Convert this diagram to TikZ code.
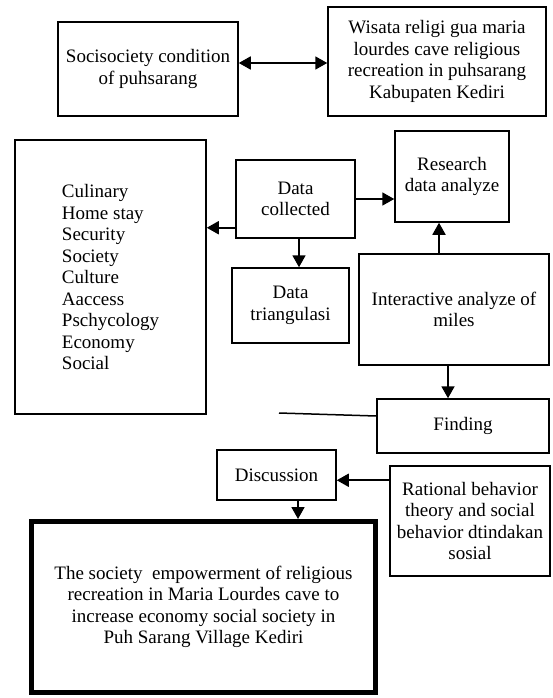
\documentclass[tikz,border=0pt]{standalone}
\usepackage{fontspec}
\setmainfont{Liberation Serif}
\usepackage{tikz}
\usetikzlibrary{arrows.meta, calc}

\begin{document}
\begin{tikzpicture}[x=1pt, y=-1pt,
        plainbox/.style={draw, line width=1.5pt, align=center, inner sep=2pt},
        arr/.style={line width=1.8pt, -{Triangle[length=12pt,width=13pt]}},
        font=\fontsize{19}{21.5}\selectfont]
        \useasboundingbox (0,0) rectangle (552,698);

        \node[plainbox, minimum width=180pt, minimum height=94pt] (soc) at (148,69) {Socisociety condition\\ of puhsarang};
        \node[plainbox, minimum width=218pt, minimum height=109pt] (wisata) at (437,61.5) {Wisata religi gua maria\\ lourdes cave religious\\ recreation in puhsarang\\ Kabupaten Kediri};
        \node[plainbox, align=left, minimum width=191pt, minimum height=274pt] (list) at (110.5,277) {Culinary\\ Home stay\\ Security\\ Society\\ Culture\\ Aaccess\\ Pschycology\\ Economy\\ Social};
        \node[plainbox, minimum width=119pt, minimum height=78pt] (dc) at (295.5,199) {Data\\ collected};
        \node[plainbox, minimum width=114pt, minimum height=91pt] (research) at (452,176.5) {Research\\ data analyze};
        \node[plainbox, minimum width=117pt, minimum height=75pt] (tri) at (290.5,305.5) {Data\\ triangulasi};
        \node[plainbox, minimum width=190pt, minimum height=111pt] (inter) at (454,309.5) {Interactive analyze of\\ miles};
        \node[plainbox, minimum width=172pt, minimum height=54pt] (finding) at (463,426) {Finding};
        \node[plainbox, minimum width=119pt, minimum height=50pt] (disc) at (276.5,475) {Discussion};
        \node[plainbox, minimum width=160pt, minimum height=110pt] (rational) at (470,521) {Rational behavior\\ theory and social\\ behavior dtindakan\\ sosial};
        \node[plainbox, line width=5pt, minimum width=344pt, minimum height=171pt] (big) at (203.5,607) {The society\ \ empowerment of religious\\ recreation in Maria Lourdes cave to\\ increase economy social society in\\ Puh Sarang Village Kediri};

        \coordinate (s1) at ([yshift=6pt]soc.east);
        \draw[arr, {Triangle[length=12pt,width=13pt]}-{Triangle[length=12pt,width=13pt]}] (s1) -- (s1 -| wisata.west);
        \draw[arr] (dc.east) -- (dc.east -| research.west);
        \coordinate (d1) at ([yshift=11pt]dc.south west);
        \draw[arr] (d1) -- (d1 -| list.east);
        \coordinate (d2) at ([xshift=3.5pt]dc.south);
        \draw[arr] (d2) -- (d2 |- tri.north);
        \coordinate (i1) at ([xshift=-15pt]inter.north);
        \draw[arr] (i1) -- (i1 |- research.south);
        \coordinate (i2) at ([xshift=-6pt]inter.south);
        \draw[arr] (i2) -- (i2 |- finding.north);
        \coordinate (cut) at (279,413);
        \draw[line width=1.5pt] (cut) -- ([yshift=10pt]finding.west);
        \coordinate (r1) at ([yshift=-15pt]rational.north west);
        \draw[arr] (r1) -- (r1 -| disc.east);
        \coordinate (d3) at ([xshift=21.5pt]disc.south);
        \draw[arr] (d3) -- (d3 |- big.north);
\end{tikzpicture}
\end{document}
